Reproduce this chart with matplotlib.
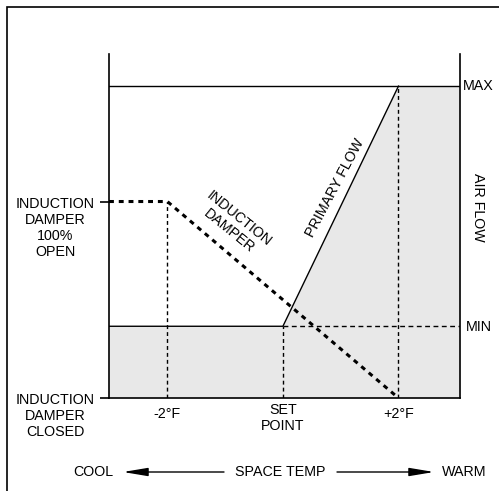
import matplotlib
matplotlib.use("Agg")
import matplotlib.pyplot as plt
from matplotlib.patches import Rectangle
import matplotlib.transforms as mtransforms

plt.rcParams['font.family'] = ['Liberation Sans', 'DejaVu Sans']

# ---- data ----
temp_ticks = [-2, 0, 2]                      # deg F offsets from set point
temp_labels = ['-2°F', 'SET\nPOINT', '+2°F']
airflow_min = 23                             # % of axis height (MIN)
airflow_max = 100                            # MAX
primary_break_x = [0, 2]                     # primary flow ramps between these
damper_x = [-2, 2]                           # damper modulates between these
damper_open_level = 63                       # y level of damper 100% open
damper_closed_level = 0
x_limits = (-3.01, 3.065)
y_limits = (0, 110.3)

W, H = 499, 491
fig = plt.figure(figsize=(W / 100, H / 100), dpi=100)

def px(x, y):
    return x / W, 1 - y / H

# outer frame (right/bottom cropped off)
fig.add_artist(Rectangle(px(7, 600), 1.5, (600 - 7) / H, transform=fig.transFigure,
                         fill=False, lw=1.2, ec='black'))

ax = fig.add_axes([109 / W, 1 - 398 / H, (460 - 109) / W, (398 - 54) / H])
ax.set_xlim(*x_limits)
ax.set_ylim(*y_limits)
for s in ['left', 'right', 'bottom']:
    ax.spines[s].set_linewidth(1.2)
ax.spines['top'].set_visible(False)
ax.set_xticks([])
ax.set_yticks([damper_closed_level, damper_open_level])
ax.tick_params(axis='y', length=6.5, width=1.2, direction='out', labelleft=False)
ax.patch.set_alpha(0)

xmin, xmax = x_limits
# primary flow shading & line
px_x = [xmin, primary_break_x[0], primary_break_x[1], xmax]
px_y = [airflow_min, airflow_min, airflow_max, airflow_max]
ax.fill_between(px_x, 0, px_y, color='#e8e8e8', lw=0, zorder=0)
ax.plot(px_x[:3], px_y[:3], color='black', lw=1.0, zorder=3)
ax.plot([xmin, xmax], [airflow_max, airflow_max], color='black', lw=1.0, zorder=3)
ax.plot([primary_break_x[0], xmax], [airflow_min, airflow_min], color='black',
        lw=1.0, dashes=(3.5, 2.5), zorder=3)

# vertical guides
ax.plot([damper_x[0]] * 2, [0, damper_open_level], color='black', lw=1.0,
        dashes=(2.8, 2.2), zorder=3)
ax.plot([primary_break_x[0]] * 2, [0, airflow_min], color='black', lw=1.0,
        dashes=(2.8, 2.2), zorder=3)
ax.plot([primary_break_x[1]] * 2, [0, airflow_max], color='black', lw=1.0,
        dashes=(2.8, 2.2), zorder=3)

# induction damper curve
ax.plot([xmin, damper_x[0], damper_x[1]],
        [damper_open_level, damper_open_level, damper_closed_level],
        color='black', lw=2.2, dashes=(1.6, 1.6), dash_joinstyle='round',
        zorder=4)

fs = 10.3
# left labels
fig.text(*px(55, 228), 'INDUCTION\nDAMPER\n100%\nOPEN', ha='center', va='center',
         fontsize=fs, multialignment='center')
fig.text(*px(55, 416), 'INDUCTION\nDAMPER\nCLOSED', ha='center', va='center',
         fontsize=fs, multialignment='center')

# x tick labels
bt = mtransforms.blended_transform_factory(ax.transData, fig.transFigure)
label_y = [414, 418, 414]
for x, lab, yy in zip(temp_ticks, temp_labels, label_y):
    ax.text(x, 1 - yy / H, lab, transform=bt, ha='center', va='center',
            fontsize=fs, multialignment='center')

# right labels
fig.text(*px(463, 86), 'MAX', ha='left', va='center', fontsize=fs)
fig.text(*px(466, 327), 'MIN', ha='left', va='center', fontsize=fs)
fig.text(*px(478, 207), 'AIR FLOW', ha='center', va='center', fontsize=fs,
         rotation=270)

# in-plot labels
fig.text(*px(234, 225), 'INDUCTION\nDAMPER', ha='center', va='center', fontsize=fs,
         rotation=-39, rotation_mode='anchor', multialignment='center')
fig.text(*px(335, 188), 'PRIMARY FLOW', ha='center', va='center', fontsize=fs,
         rotation=62, rotation_mode='anchor')

# bottom axis description
fig.text(*px(93, 472), 'COOL', ha='center', va='center', fontsize=fs)
fig.text(*px(280, 472), 'SPACE TEMP', ha='center', va='center', fontsize=fs)
fig.text(*px(464.5, 472), 'WARM', ha='center', va='center', fontsize=fs)
arrow_kw = dict(arrowstyle='-|>,head_length=1.5,head_width=0.25', color='black',
                lw=1.0, mutation_scale=10, shrinkA=0, shrinkB=0)
fig.add_artist(matplotlib.patches.FancyArrowPatch(px(224, 472), px(123, 472),
               transform=fig.transFigure, **arrow_kw))
fig.add_artist(matplotlib.patches.FancyArrowPatch(px(337, 472), px(434, 472),
               transform=fig.transFigure, **arrow_kw))

fig.savefig('out.png', dpi=100)
